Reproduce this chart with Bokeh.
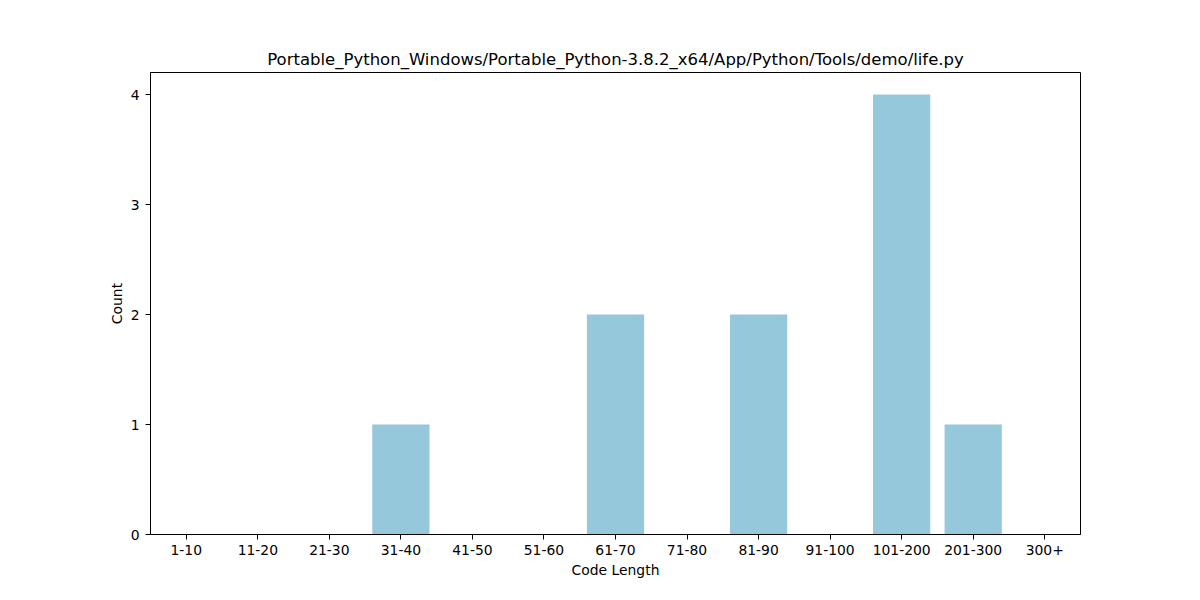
from bokeh.plotting import figure
from bokeh.models import FactorRange, Range1d, FixedTicker
from bokeh.embed import file_html
from bokeh.resources import INLINE

categories = ["1-10", "11-20", "21-30", "31-40", "41-50", "51-60", "61-70",
              "71-80", "81-90", "91-100", "101-200", "201-300", "300+"]
counts = [0, 0, 0, 1, 0, 0, 2, 0, 2, 0, 4, 1, 0]
title = "Portable_Python_Windows/Portable_Python-3.8.2_x64/App/Python/Tools/demo/life.py"

p = figure(width=1184, height=584, output_backend="svg", toolbar_location=None,
           x_range=FactorRange(factors=categories, range_padding=0),
           y_range=Range1d(0, 4.2),
           min_border_left=150, min_border_right=104, min_border_top=72, min_border_bottom=50)
p.frame_width = 930
p.frame_height = 462

p.vbar(x=categories, top=counts, width=0.8, color="#96c8dc", line_color=None)

p.title.text = title
p.title.align = "center"
p.title.text_font = "DejaVu Sans"
p.title.text_font_size = "16.5px"
p.title.text_font_style = "normal"
p.title.text_color = "black"
p.title.offset = 0
p.title.standoff = 7

p.xgrid.visible = False
p.ygrid.visible = False
p.outline_line_color = "black"
p.outline_line_width = 1
p.outline_line_alpha = 1

p.yaxis.ticker = FixedTicker(ticks=[0, 1, 2, 3, 4])
for ax in (p.xaxis[0], p.yaxis[0]):
    ax.axis_line_color = "black"
    ax.major_tick_line_color = "black"
    ax.major_tick_out = 5
    ax.major_tick_in = 0
    ax.minor_tick_out = 0
    ax.minor_tick_in = 0
    ax.major_label_text_font = "DejaVu Sans"
    ax.major_label_text_font_size = "13.9px"
    ax.major_label_text_color = "black"
    ax.axis_label_text_font = "DejaVu Sans"
    ax.axis_label_text_font_size = "13.9px"
    ax.axis_label_text_font_style = "normal"
    ax.axis_label_text_color = "black"
p.xaxis.axis_label = "Code Length"
p.yaxis.axis_label = "Count"
p.xaxis.major_label_standoff = 5
p.yaxis.major_label_standoff = 6
p.xaxis.axis_label_standoff = 4
p.yaxis.axis_label_standoff = 3
p.xaxis.group_text_font_size = "0px"

open("out.html", "w").write(file_html(p, INLINE))
